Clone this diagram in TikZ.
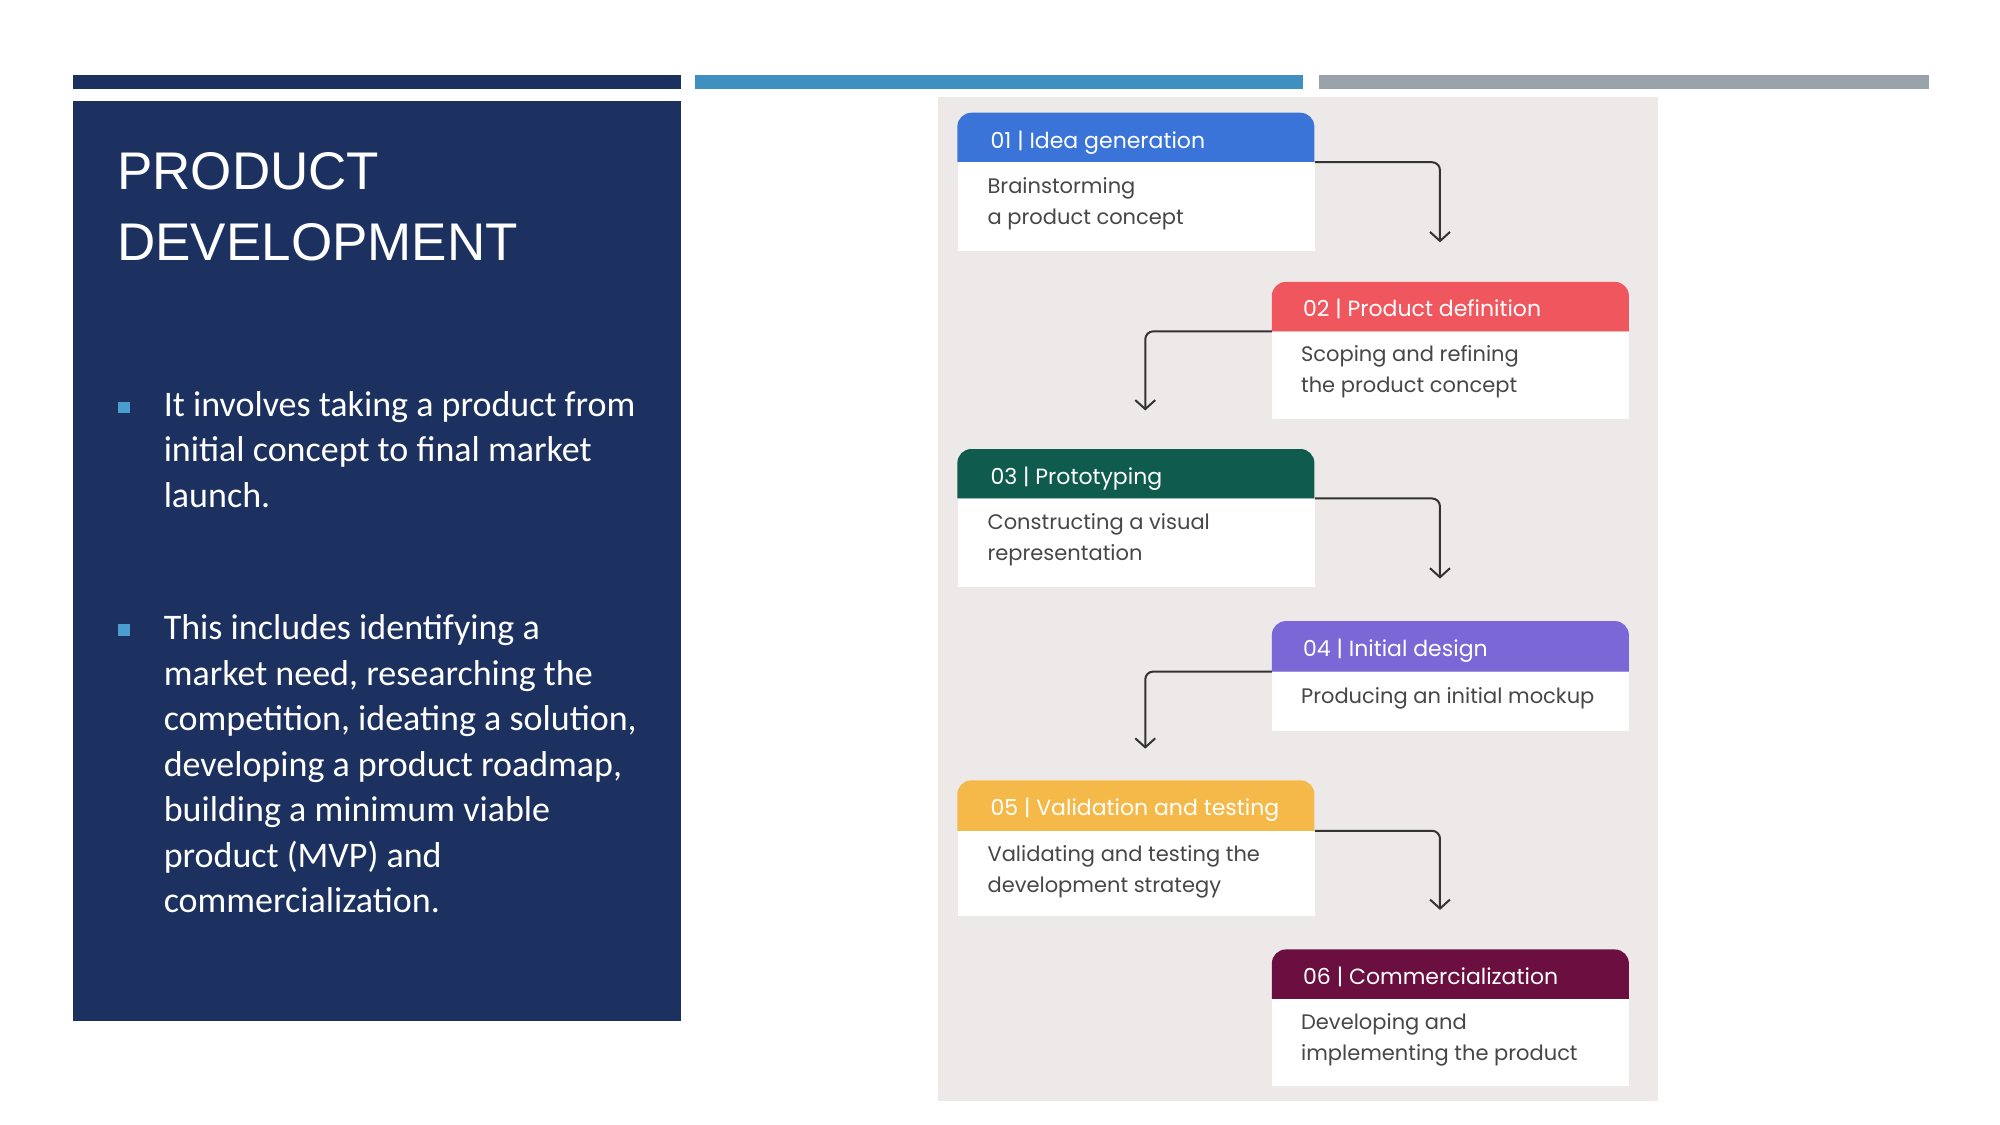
\documentclass[tikz,border=0pt]{standalone}
\usepackage{fontspec}
\setmainfont{Carlito}
\newfontfamily\pop{Poppins}
\newfontfamily\ttl{Liberation Sans}
\usetikzlibrary{arrows.meta}
\definecolor{navy}{HTML}{1C3160}
\definecolor{midblue}{HTML}{3F8FC0}
\definecolor{greybar}{HTML}{9AA3AB}
\definecolor{bul}{HTML}{4B9DD0}
\definecolor{panel}{HTML}{ECE9E8}
\definecolor{c1}{HTML}{3A74D8}
\definecolor{c2}{HTML}{F0565E}
\definecolor{c3}{HTML}{0F5C4F}
\definecolor{c4}{HTML}{7B68D6}
\definecolor{c5}{HTML}{F5B94A}
\definecolor{c6}{HTML}{6A0F3F}
\definecolor{txt}{HTML}{474747}
\newcommand{\nohy}{\hyphenpenalty=10000 \exhyphenpenalty=10000 \relax}
\tikzset{
 body/.style={fill=white,draw=none,minimum width=357pt,anchor=north west,inner sep=0pt},
 htext/.style={anchor=base west,text=white,font=\pop\fontsize{22}{26}\selectfont},
 btext/.style={anchor=north west,text=txt,align=left,font=\pop\fontsize{21}{31}\selectfont},
 arr/.style={draw=black!80,line width=2pt,rounded corners=8pt,-{Straight Barb[length=9pt,width=20pt,line width=2pt]}},
 ltext/.style={anchor=north west,text=white,text width=475pt,align=flush left,font=\fontsize{36}{45.5}\selectfont},
 ttext/.style={anchor=base west,text=white,font=\ttl\fontsize{53}{64}\selectfont}
}
\newcommand{\hdr}[4]{\fill[#4] (#1,#3) [rounded corners=14pt]-- (#1,#2) -- ({#1+361},#2) [sharp corners]-- ({#1+361},#3) -- cycle;}
\begin{document}
\begin{tikzpicture}[x=0.989pt,y=-0.989pt]
\useasboundingbox (0,0) rectangle (2022.25,1137.5);
\fill[white] (0,0) rectangle (2022.25,1137.5);
\fill[navy] (74,76) rectangle (689,90);
\fill[midblue] (703,76) rectangle (1317,90);
\fill[greybar] (1334,76) rectangle (1950,90);
\fill[navy] (74,102) rectangle (689,1032);
\node[ttext] (title1) at (115,192) {PRODUCT};
\node[ttext] (title2) at (115,263) {DEVELOPMENT};
\fill[bul] (119,406) rectangle (131,418);
\node[ltext] (t1) at (162,392) {\nohy It involves taking a product from initial concept to final market launch.};
\fill[bul] (119,631) rectangle (131,643);
\node[ltext] (t2) at (162,618) {\nohy This includes identifying a market need, researching the competition, ideating a solution, developing a product roadmap, building a minimum viable product (MVP) and commercialization.};
% image panel
\fill[panel] (948,98) rectangle (1676,1113);
% boxes
\hdr{968}{114}{164}{c1}
\node[body,minimum height=89pt] (b1) at (968,164) {};
\node[htext] (h1) at (998,150) {01 | Idea generation};
\node[btext] (x1) at (995,176) {Brainstorming\\a product concept};
\hdr{1286}{285}{335}{c2}
\node[body,minimum height=87pt] (b2) at (1286,335) {};
\node[htext] (h2) at (1314,320) {02 | Product definition};
\node[btext] (x2) at (1312,346) {Scoping and refining\\the product concept};
\hdr{968}{454}{504}{c3}
\node[body,minimum height=88pt] (b3) at (968,504) {};
\node[htext] (h3) at (998,490) {03 | Prototyping};
\node[btext] (x3) at (995,516) {Constructing a visual\\representation};
\hdr{1286}{628}{679}{c4}
\node[body,minimum height=59pt] (b4) at (1286,679) {};
\node[htext] (h4) at (1314,664) {04 | Initial design};
\node[btext] (x4) at (1312,692) {Producing an initial mockup};
\hdr{968}{789}{840}{c5}
\node[body,minimum height=85pt] (b5) at (968,840) {};
\node[htext] (h5) at (998,825) {05 | Validation and testing};
\node[btext] (x5) at (995,851) {Validating and testing the\\development strategy};
\hdr{1286}{960}{1010}{c6}
\node[body,minimum height=87pt] (b6) at (1286,1010) {};
\node[htext] (h6) at (1314,995) {06 | Commercialization};
\node[btext] (x6) at (1312,1021) {Developing and\\implementing the product};
% arrows
\coordinate (e1) at (1456,245);
\coordinate (e2) at (1158,415);
\coordinate (e3) at (1456,585);
\coordinate (e4) at (1158,757);
\coordinate (e5) at (1456,920);
\draw[arr] (b1.north east) -| (e1);
\draw[arr] (b2.north west) -| (e2);
\draw[arr] (b3.north east) -| (e3);
\draw[arr] (b4.north west) -| (e4);
\draw[arr] (b5.north east) -| (e5);
\end{tikzpicture}
\end{document}
